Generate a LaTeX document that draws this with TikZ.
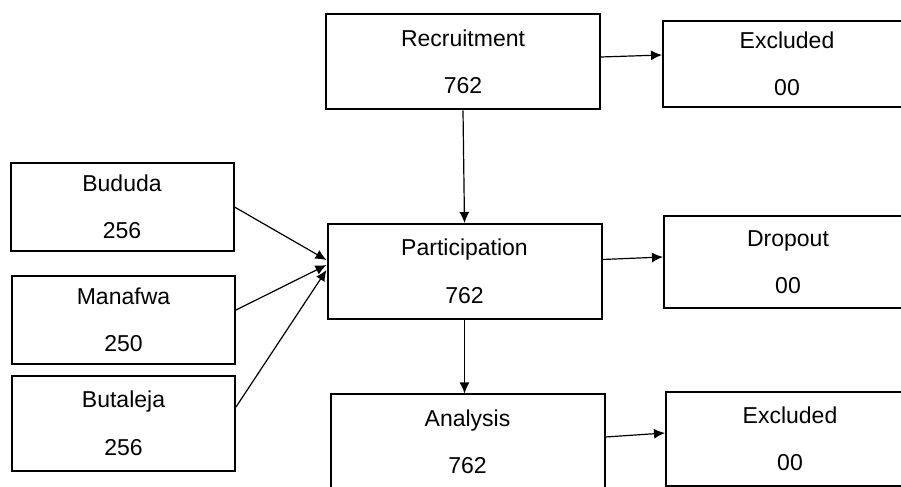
\documentclass[tikz,border=0pt]{standalone}
\usepackage{fontspec}
\setmainfont{Liberation Sans}
\usetikzlibrary{arrows.meta}

\begin{document}
\begin{tikzpicture}[x=0.5pt,y=0.5pt,
    mainbox/.style={
% The shape:
rectangle,
% The size:
minimum width=137pt,
minimum height=47.5pt,
% The border:
line width=1pt, draw,
% The text:
align=center, inner sep=0pt,
font=\fontsize{11.5}{23.75}\selectfont,
},
    sidebox/.style={
% The shape:
rectangle,
% The size:
minimum width=124pt,
minimum height=46pt,
% The border:
line width=1pt, draw,
% The text:
align=center, inner sep=0pt,
font=\fontsize{11.5}{23.75}\selectfont,
},
    sitebox/.style={
% The shape:
rectangle,
% The size:
minimum width=111.5pt,
minimum height=44pt,
% The border:
line width=1pt, draw,
% The text:
align=center, inner sep=0pt,
font=\fontsize{11.5}{23.75}\selectfont,
},
    flow/.style={line width=0.6pt, -{Latex[length=5.5pt,width=5pt]}},
]
  \useasboundingbox (0,0) rectangle (901,487);
  \clip (0,0) rectangle (901,487);

  \node[mainbox]                        (rec) at (463, 425) {Recruitment\\762};
  \node[mainbox]                        (part) at (464.5, 215.5) {Participation\\762};
  \node[mainbox]                        (ana) at (467.5, 45) {Analysis\\762};

  \node[sidebox,minimum height=43pt]    (exc1) at (787, 423) {Excluded\\00};
  \node[sidebox]                        (drop) at (788, 225) {Dropout\\00};
  \node[sidebox,minimum height=47pt]    (exc2) at (790, 48) {Excluded\\00};

  \node[sitebox]                        (bud) at (122, 280) {Bududa\\256};
  \node[sitebox]                        (man) at (123.5, 167) {Manafwa\\250};
  \node[sitebox,minimum height=47.5pt]  (but) at (123.5, 63.5) {Butaleja\\256};

  \draw[flow] (rec.south) -- (part.north);
  \draw[flow] (part.south) -- (part.south |- ana.north);
  \draw[flow] ([yshift=2.5pt]rec.east) -- ([yshift=4.5pt]exc1.west);
  \draw[flow] ([yshift=6pt]part.east) -- ([yshift=2.5pt]drop.west);
  \draw[flow] ([yshift=2.5pt]ana.east) -- ([yshift=3pt]exc2.west);

  \draw[flow] (bud.east) -- ([yshift=5.75pt]part.west);
  \draw[flow] ([yshift=5pt]man.east) -- ([yshift=3.25pt]part.west);
  \draw[flow] ([yshift=8.25pt]but.east) -- ([yshift=0.75pt]part.west);

\end{tikzpicture}
\end{document}
